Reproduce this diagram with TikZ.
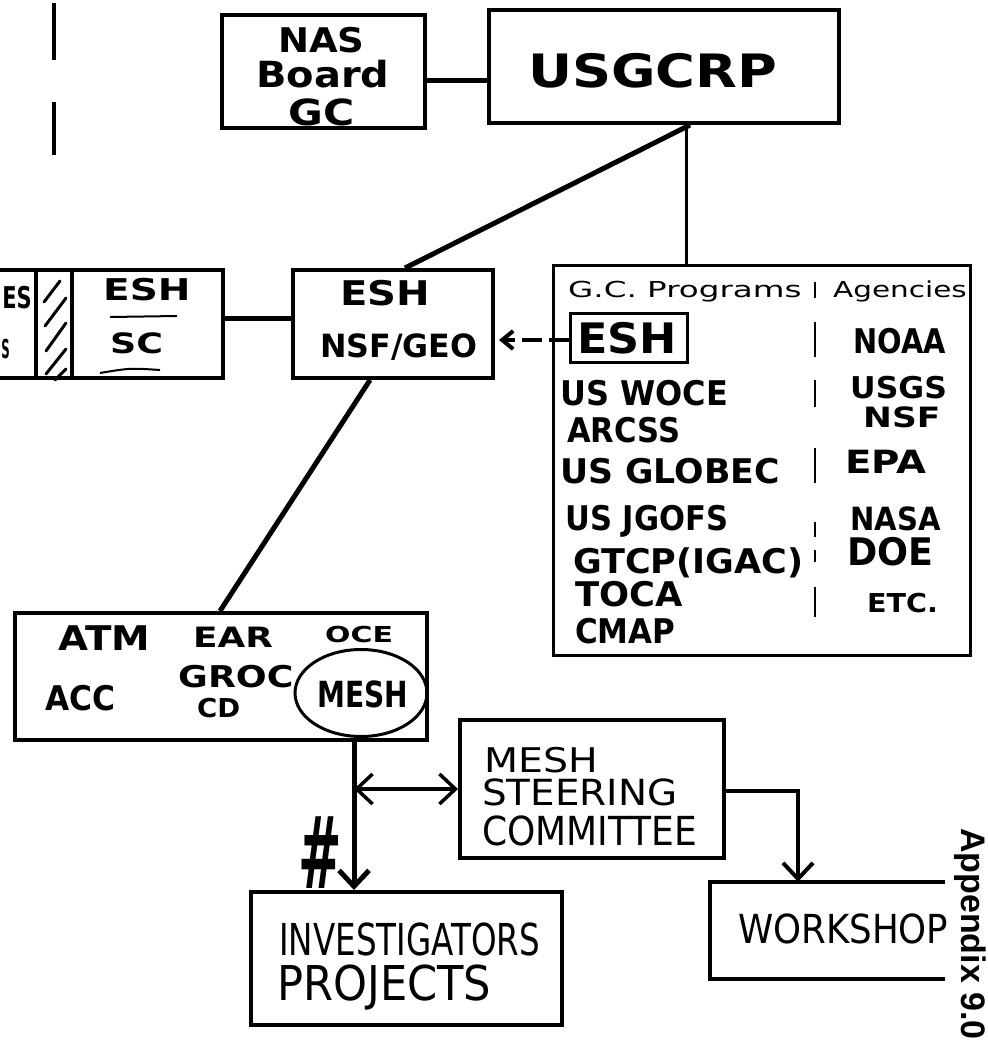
\documentclass[tikz,border=0pt]{standalone}
\usepackage{fontspec}
\usepackage{graphicx}
\usetikzlibrary{arrows.meta,shapes.geometric}
\newfontfamily\hf{DejaVu Sans}
\newfontfamily\apxf{Liberation Sans}
\newcommand\T[3]{{\fontsize{#1}{#1}\selectfont\scalebox{#2}[1]{#3}}}
\newcommand\tbx[6]{\node[tb] (#1) at (#2,#3) {\T{#4}{#5}{#6}};}
\newcommand\trx[6]{\node[trg] (#1) at (#2,#3) {\T{#4}{#5}{#6}};}
\tikzset{
  box/.style={draw, line width=4pt, inner sep=0pt, rectangle},
  conn/.style={line width=5pt},
  thinln/.style={line width=3pt},
  tb/.style={inner sep=0pt, anchor=base west, font=\hf\bfseries},
  trg/.style={inner sep=0pt, anchor=base west, font=\hf},
  vtip/.tip={Straight Barb[length=16pt,width=30pt]},
  stip/.tip={Straight Barb[length=11pt,width=18pt]}
}
\begin{document}
\begin{tikzpicture}[x=1pt,y=-1pt]
\useasboundingbox (0,0) rectangle (988,1047);

% left dashed marker
\draw[line width=4pt] (54,3) -- (54,60) (54,102) -- (54,155);

% boxes
\node[box, minimum width=203pt, minimum height=113pt] (nas) at (323.5,71.5) {};
\node[box, minimum width=350pt, minimum height=113pt] (usg) at (664,66.5) {};
\node[box, minimum width=151pt, minimum height=108pt] (escb) at (147.5,324) {};
\node[box, minimum width=200pt, minimum height=108pt] (eshn) at (393,324) {};
\node[box, line width=3pt, minimum width=417pt, minimum height=390pt] (gcb) at (761.5,460) {};
\node[box, line width=3pt, minimum width=117pt, minimum height=49pt] (eshin) at (628.5,337.5) {};
\node[box, minimum width=412pt, minimum height=127pt] (atm) at (221,676.5) {};
\node[ellipse, draw, line width=3pt, inner sep=0pt, minimum width=132pt, minimum height=87pt] (mesh) at (361,693) {};
\node[box, minimum width=264pt, minimum height=138pt] (msc) at (592,789) {};
\node[box, minimum width=311pt, minimum height=133pt] (inv) at (406.5,958.5) {};
\node[inner sep=0pt, minimum width=235pt, minimum height=97pt] (work) at (827.5,930.5) {};
\draw[line width=4pt] (work.north east) -- (work.north west) -- (work.south west) -- (work.south east);

% partial box and hatched strip at left
\draw[line width=4pt] (-10,270) -- (72,270) (-10,378) -- (72,378) (36,270) -- (36,378);
\draw[line width=3pt, line cap=round]
  (44,302) -- (60,281) (45,326) -- (66,298) (46,351) -- (66,323)
  (46,374) -- (66,349) (55,380) -- (66,369);

% underlines in ESH / SC
\draw[line width=2pt] (110,317) -- (177,316);
\draw[line width=2pt] (100,373) .. controls (130,368) .. (160,370);

% connectors
\draw[conn] ([yshift=-8.5pt]nas.east) -- ([yshift=-13.5pt]usg.west);
\draw[conn] ([xshift=26pt]usg.south) -- ([xshift=12pt]eshn.north);
\draw[thinln] ([xshift=22pt]usg.south) -- ([xshift=-75.5pt]gcb.north);
\draw[conn] ([yshift=6pt]escb.east) -- ([yshift=6pt]eshn.west);
\draw[line width=4pt, dash pattern=on 20pt off 7pt, shorten >=4pt, -{stip}] ([yshift=-2.5pt]eshin.west) -- ([yshift=-16pt]eshn.east);
\draw[conn] ([xshift=-23pt]eshn.south) -- ([xshift=-1pt]atm.north);
\draw[conn, -{vtip}] ([xshift=133pt]atm.south) -- ([xshift=-52.5pt]inv.north);
\coordinate (jn) at (354,789);
\draw[line width=3.5pt, {vtip}-{vtip}] (jn) -- (msc.west |- jn);
\draw[line width=4pt, -{vtip}] ([yshift=-2pt]msc.east) -| ([xshift=-29.5pt]work.north);

% dividers in G.C. box
\draw[line width=2.5pt]
  (815,282) -- (815,298) (815,322) -- (815,357) (815,380) -- (815,407)
  (815,448) -- (815,483) (815,522) -- (815,537) (815,550) -- (815,562)
  (815,587) -- (815,617);

% texts
\tbx{tnas}{278}{52}{34}{1.09}{NAS}
\tbx{tboard}{256}{87}{36}{1.11}{Board}
\tbx{tgc}{288}{125}{36}{1.18}{GC}
\tbx{tusg}{528}{87}{46}{1.18}{USGCRP}
\node[tb, anchor=base east] (tes) at (32,308) {\T{30}{0.7}{ES}};
\node[tb, anchor=base east] (tes2) at (10,358) {\T{26}{0.45}{S}};
\tbx{tesh1}{103}{300}{30}{1.3}{ESH}
\tbx{tsc}{110}{353}{28}{1.3}{SC}
\tbx{tesh2}{340}{305}{34}{1.18}{ESH}
\tbx{tnsf}{320}{357}{32}{0.99}{NSF/GEO}
\tbx{tesh3}{577}{353}{42}{1.06}{ESH}
\trx{tgcp}{568}{297}{22}{1.48}{G.C. Programs}
\trx{tage}{833}{297}{22}{1.34}{Agencies}
\tbx{twoce}{560}{405}{34}{0.94}{US WOCE}
\tbx{tarc}{567}{442}{34}{0.9}{ARCSS}
\tbx{tglo}{560}{483}{34}{1.02}{US GLOBEC}
\tbx{tjg}{565}{530}{34}{0.9}{US JGOFS}
\tbx{tgtc}{573}{573}{34}{1.03}{GTCP(IGAC)}
\tbx{ttoca}{575}{606}{34}{1.04}{TOCA}
\tbx{tcmap}{575}{643}{34}{0.91}{CMAP}
\tbx{tnoaa}{853}{353}{34}{0.85}{NOAA}
\tbx{tusgs}{850}{398}{30}{1.05}{USGS}
\tbx{tnsf2}{863}{427}{28}{1.23}{NSF}
\tbx{tepa}{845}{473}{32}{1.21}{EPA}
\tbx{tnasa}{850}{530}{32}{0.91}{NASA}
\tbx{tdoe}{847}{565}{38}{0.96}{DOE}
\tbx{tetc}{867}{612}{26}{1.1}{ETC.}
\tbx{tatm}{58}{650}{34}{1.14}{ATM}
\tbx{tear}{193}{647}{28}{1.28}{EAR}
\tbx{toce}{325}{642}{22}{1.36}{OCE}
\tbx{tacc}{45}{710}{34}{0.92}{ACC}
\tbx{tgroc}{178}{687}{30}{1.21}{GROC}
\tbx{tcd}{197}{717}{26}{1.06}{CD}
\tbx{tmesh}{317}{707}{36}{0.78}{MESH}
\trx{tm2}{484}{772}{34}{1.16}{MESH}
\trx{tste}{482}{805}{36}{1.08}{STEERING}
\trx{tcom}{482}{845}{40}{0.9}{COMMITTEE}
\trx{tinv}{279}{955}{44}{0.74}{INVESTIGATORS}
\trx{tproj}{277}{1000}{48}{0.9}{PROJECTS}
\trx{twork}{738}{943}{40}{0.89}{WORKSHOP}
\tbx{thash}{298}{888}{100}{0.52}{\#}
\node[rotate=-90, anchor=base west, inner sep=0pt, font=\apxf\bfseries\fontsize{34}{34}\selectfont] (apx) at (961,828) {Appendix 9.0};
\end{tikzpicture}
\end{document}
